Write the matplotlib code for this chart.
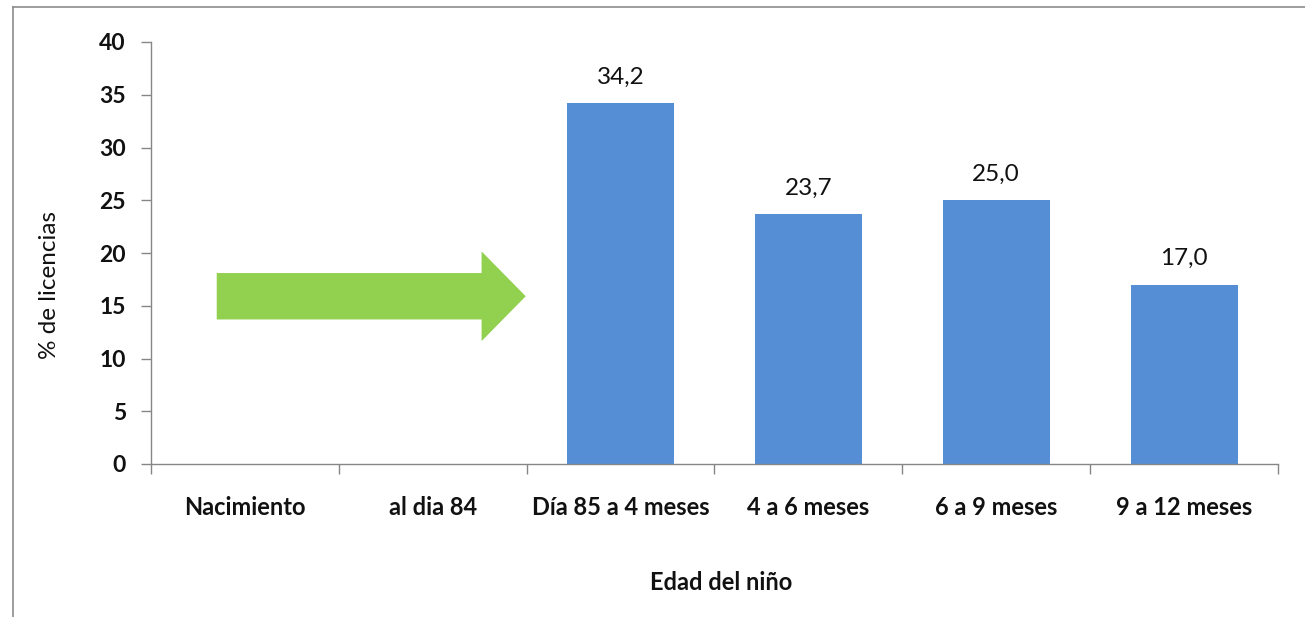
import numpy as np
import matplotlib
matplotlib.use("Agg")
import matplotlib.pyplot as plt
from matplotlib.patches import FancyArrow
from matplotlib.lines import Line2D

# Data
categorias = ["Nacimiento", "al dia 84", "Día 85 a 4 meses", "4 a 6 meses",
              "6 a 9 meses", "9 a 12 meses"]
porcentajes = [None, None, 34.2, 23.7, 25.0, 17.0]
etiquetas_y = [0, 5, 10, 15, 20, 25, 30, 35, 40]

plt.rcParams["font.family"] = ["Lato", "DejaVu Sans"]

fig = plt.figure(figsize=(13.05, 6.17), dpi=100)
fig.patch.set_facecolor("white")
W, H = 1305, 617

ax = fig.add_axes([151 / W, (H - 464) / H, (1278 - 151) / W, (464 - 42) / H])

x = np.arange(len(categorias))
vals = np.array([np.nan if v is None else v for v in porcentajes], dtype=float)
mask = ~np.isnan(vals)
ax.bar(x[mask], vals[mask], width=0.57, color="#558ED5", zorder=2)

for xi, v in zip(x[mask], vals[mask]):
    ax.annotate(f"{v:.1f}".replace(".", ","), (xi, v), xytext=(0, 14),
                textcoords="offset points", ha="center", va="baseline",
                fontsize=17.5, color="#111111")

# Green arrow pointing toward the first bar
ax.add_patch(FancyArrow(-0.15, 15.9, 1.645, 0, width=4.4, head_width=8.5,
                        head_length=0.235, length_includes_head=True,
                        color="#92D050", linewidth=0, zorder=3))

ax.set_xlim(-0.5, len(categorias) - 0.5)
ax.set_ylim(0, 40)
ax.set_yticks(etiquetas_y)
ax.set_yticklabels([str(t) for t in etiquetas_y], fontsize=16.5, fontweight="bold")
ax.set_xticks(x)
ax.set_xticklabels(categorias, fontsize=17, fontweight="bold")
ax.set_xticks(np.arange(-0.5, len(categorias)), minor=True)
ax.tick_params(axis="x", which="major", length=0, pad=23, colors="#111111")
ax.tick_params(axis="x", which="minor", length=7, width=1, color="#868686")
ax.tick_params(axis="y", length=7, width=1, color="#868686", pad=11,
               labelcolor="#111111")

for side in ("top", "right"):
    ax.spines[side].set_visible(False)
for side in ("left", "bottom"):
    ax.spines[side].set_color("#868686")
    ax.spines[side].set_linewidth(1)

fig.text(50 / W, 1 - 285 / H, "% de licencias", rotation=90, ha="center",
         va="center", fontsize=17.5, color="#111111")
fig.text(721 / W, 1 - 583 / H, "Edad del niño", ha="center", va="center",
         fontsize=17, fontweight="bold", color="#111111")

# Chart-area frame
fig.add_artist(Line2D([13 / W, 13 / W], [0, 1 - 7 / H], color="#8C8C8C", lw=1.2))
fig.add_artist(Line2D([13 / W, 1], [1 - 7 / H, 1 - 7 / H], color="#8C8C8C", lw=1.2))

fig.savefig("out.png", dpi=100, facecolor="white")
